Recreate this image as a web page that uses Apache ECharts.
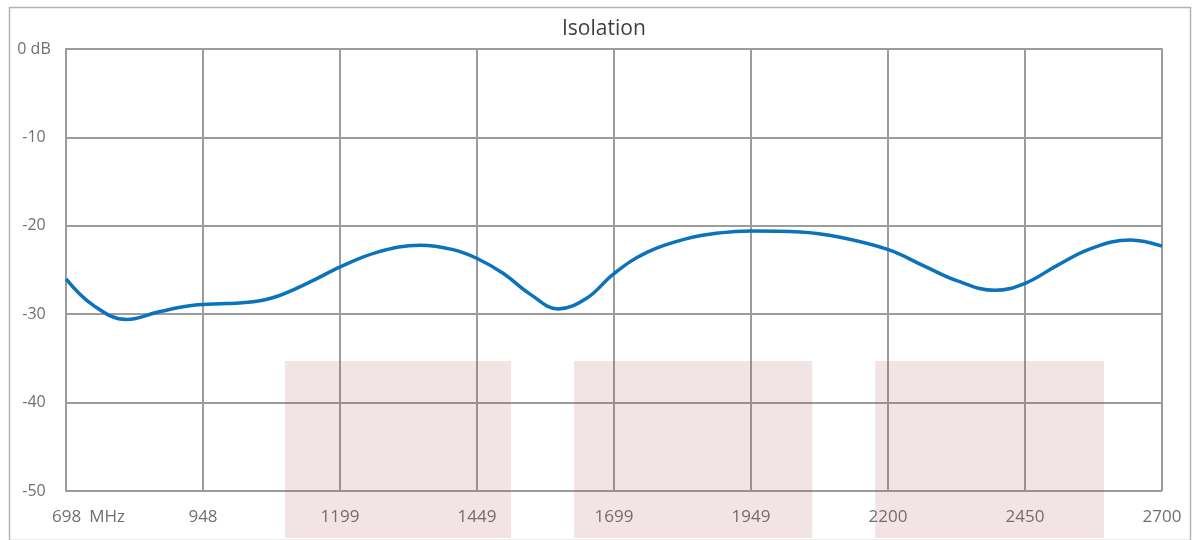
<!DOCTYPE html>
<html>
<head>
<meta charset="utf-8">
<script src="https://cdn.jsdelivr.net/npm/echarts@6/dist/echarts.min.js"></script>
<style>
  html, body { margin: 0; padding: 0; background: #fff; }
  #chart { width: 1193px; height: 540px; }
</style>
</head>
<body>
<div id="chart"></div>
<script>
// isolation curve
var freqs = [698, 748, 809, 870, 931, 992, 1040, 1083, 1144, 1199, 1266, 1345, 1405, 1449, 1497, 1545,
	1597, 1649, 1699, 1759, 1832, 1893, 1949, 2039, 2112, 2200, 2264, 2325, 2395, 2450, 2508, 2569, 2642, 2700];
var isolation = [-26.0, -29.0, -30.6, -29.7, -29.0, -28.8, -28.6, -28.0, -26.35, -24.65, -23.0, -22.2, -22.7,
	-23.7, -25.4, -27.7, -29.4, -28.2, -25.4, -23.0, -21.45, -20.8, -20.6, -20.7, -21.3, -22.7, -24.5, -26.2,
	-27.3, -26.5, -24.5, -22.6, -21.6, -22.3];

// shaded bands
var bandStart = [1098, 1626, 2176];
var bandEnd = [1511, 2061, 2594];
var bandTop = -35.3;

var xTickLabels = ['698', '948', '1199', '1449', '1699', '1949', '2200', '2450', '2700'];
var fStart = 698;
var fEnd = 2700;
var fStep = 250.25;

var chart = echarts.init(document.getElementById('chart'));

var lineData = freqs.map(function (f, i) { return [f - fStart, isolation[i]]; });
var bandData = bandStart.map(function (f, i) { return [f - fStart, bandEnd[i] - fStart, bandTop]; });

var font = '"Open Sans", sans-serif';
var gridColor = '#9c9c9c';

chart.setOption({
	animation: false,
	textStyle: { fontFamily: font },
	title: {
		text: 'Isolation',
		left: 557,
		top: 14,
		textStyle: { fontFamily: font, fontSize: 21, fontWeight: 'normal', color: '#404040' }
	},
	graphic: [{
		type: 'rect',
		left: 7, top: 5,
		shape: { width: 1181, height: 533 },
		style: { fill: 'none', stroke: '#b4b4b4', lineWidth: 1.5 },
		z: -1
	}],
	grid: { left: 66, right: 31, top: 49, bottom: 49 },
	xAxis: {
		type: 'value',
		min: 0,
		max: fEnd - fStart,
		interval: fStep,
		axisLine: { show: true, lineStyle: { color: gridColor, width: 2 } },
		axisTick: { show: false },
		splitLine: { show: true, lineStyle: { color: gridColor, width: 2 } },
		axisLabel: {
			color: '#707070',
			fontSize: 17,
			margin: 18,
			showMinLabel: true,
			showMaxLabel: true,
			formatter: function (v, idx) {
				var t = xTickLabels[idx];
				return idx === 0 ? '{a|' + t + '}{b|MHz}' : t;
			},
			rich: {
				a: { fontSize: 17, color: '#707070', fontFamily: font, padding: [0, 0, 0, 45] },
				b: { fontSize: 17, color: '#707070', fontFamily: font, padding: [0, 0, 0, 8] }
			}
		}
	},
	yAxis: {
		type: 'value',
		min: -50,
		max: 0,
		interval: 10,
		axisLine: { show: true, lineStyle: { color: gridColor, width: 2 } },
		axisTick: { show: false },
		splitLine: { show: true, lineStyle: { color: gridColor, width: 2 } },
		axisLabel: {
			color: '#707070',
			fontSize: 16,
			margin: 32,
			align: 'center',
			formatter: function (v) { return v === 0 ? '0 dB' : String(v); }
		}
	},
	series: [{
		type: 'custom',
		clip: false,
		z: 3,
		data: bandData,
		renderItem: function (params, api) {
			var p0 = api.coord([api.value(0), api.value(2)]);
			var p1 = api.coord([api.value(1), -50]);
			var bottom = api.getHeight() - 2;
			return {
				type: 'rect',
				shape: { x: p0[0], y: p0[1], width: p1[0] - p0[0], height: bottom - p0[1] },
				style: { fill: 'rgba(168,75,82,0.15)' }
			};
		}
	}, {
		type: 'line',
		data: lineData,
		smooth: 0.4,
		showSymbol: false,
		z: 4,
		lineStyle: { color: '#0b72bc', width: 3.5 }
	}]
});
</script>
</body>
</html>
